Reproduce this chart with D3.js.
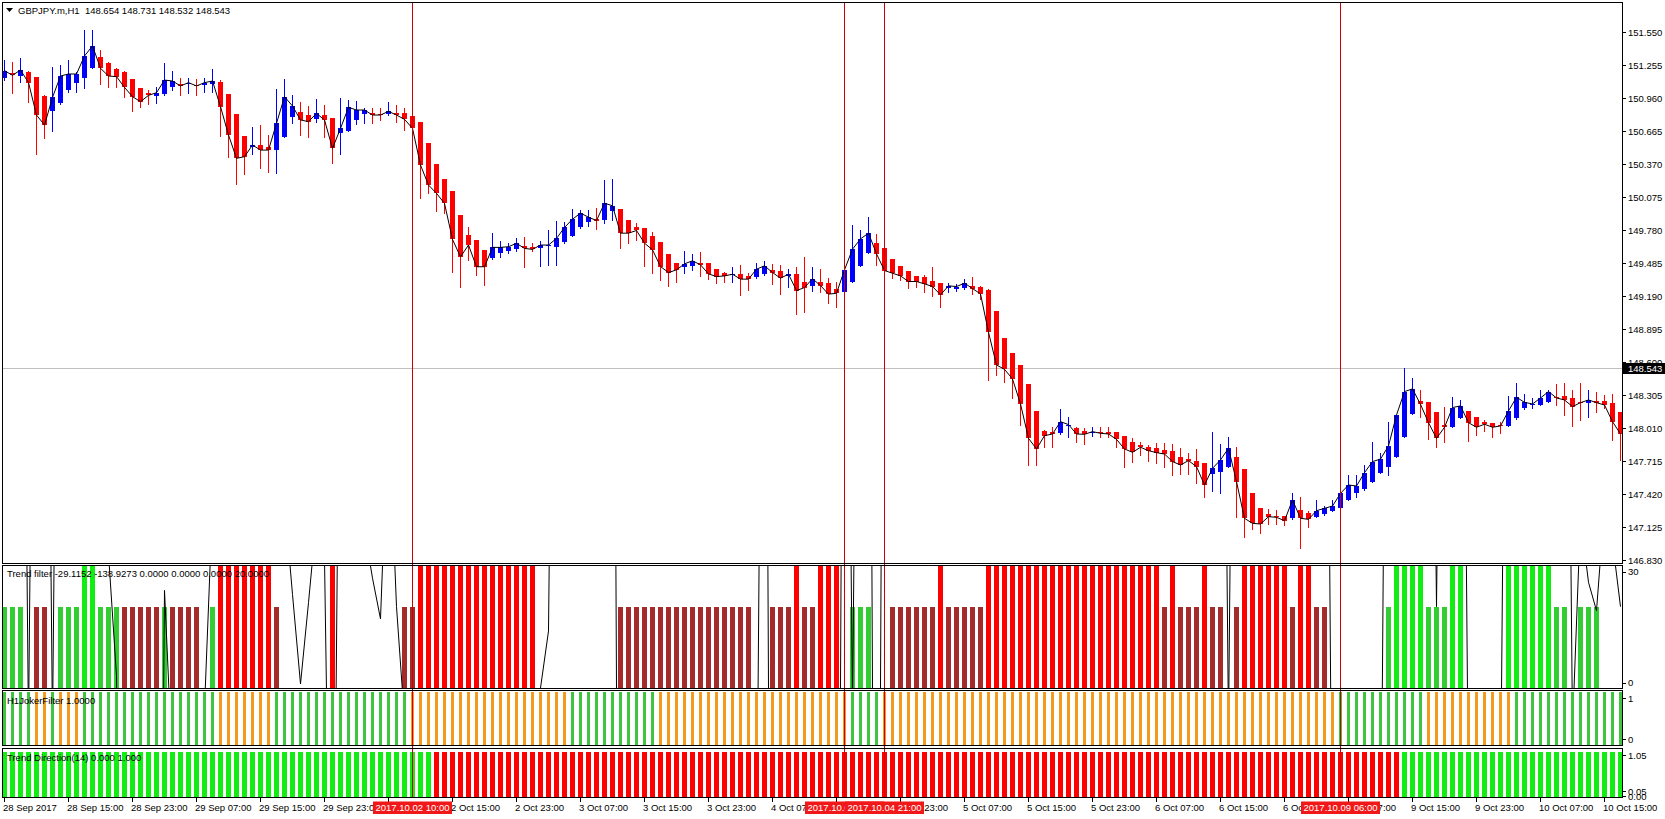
<!DOCTYPE html>
<html><head><meta charset="utf-8">
<script src="https://cdn.jsdelivr.net/npm/d3@7"></script>
<style>
html,body{margin:0;padding:0;background:#fff;}
svg{display:block;}
text{font-family:"Liberation Sans",Arial,sans-serif;font-size:9.5px;fill:#000;white-space:pre;}
</style></head><body>
<svg id="chart" width="1665" height="819"></svg>
<script>
// ---------- DATA ----------
const opens=[151.132,151.177,151.153,151.192,151.141,150.974,150.843,150.909,151.028,151.094,
151.132,151.228,151.326,151.272,151.219,151.192,151.126,151.043,150.998,150.974,
150.989,151.052,151.082,151.082,151.076,151.070,151.082,151.103,150.992,150.810,
150.617,150.521,150.536,150.521,150.491,150.611,150.789,150.834,150.804,150.766,
150.804,150.775,150.646,150.664,150.760,150.813,150.825,150.813,150.813,150.819,
150.819,150.795,150.739,150.551,150.366,150.229,150.125,149.910,149.731,149.686,
149.597,149.522,149.567,149.591,149.603,149.633,149.621,149.612,149.633,149.627,
149.665,149.727,149.799,149.852,149.873,149.867,149.942,149.963,149.867,149.802,
149.793,149.724,149.668,149.563,149.480,149.450,149.456,149.480,149.480,149.429,
149.396,149.372,149.381,149.366,149.352,149.381,149.420,149.411,149.366,149.384,
149.310,149.277,149.310,149.301,149.247,149.226,149.316,149.459,149.575,149.659,
149.614,149.516,149.456,149.411,149.366,149.352,149.322,149.301,149.262,149.247,
149.256,149.277,149.271,149.241,149.053,148.809,148.675,148.570,148.400,148.159,
147.983,147.968,147.959,148.025,148.010,147.983,147.959,147.974,147.968,147.968,
147.935,147.879,147.855,147.834,147.825,147.810,147.801,147.750,147.726,147.715,
147.691,147.592,147.616,147.661,147.744,147.637,147.422,147.288,147.235,147.220,
147.220,147.199,147.273,147.244,147.214,147.238,147.267,147.288,147.363,147.422,
147.458,147.527,147.607,147.661,147.750,147.929,148.132,148.248,148.236,148.147,
148.034,148.019,148.099,148.159,148.102,148.060,148.049,148.034,148.028,148.093,
148.183,148.209,148.212,148.242,148.287,148.293,148.278,148.242,148.233,148.248,
148.248,148.227,148.147];
const highs=[151.296,151.281,151.311,151.195,151.145,150.980,151.237,151.252,151.296,151.190,
151.565,151.565,151.386,151.275,151.222,151.195,151.130,151.046,151.028,151.052,
151.272,151.201,151.132,151.132,151.123,151.132,151.213,151.117,150.995,150.813,
150.620,150.700,150.715,150.626,151.034,151.123,150.983,150.924,150.885,150.948,
150.894,150.780,150.953,150.939,150.933,150.864,150.864,150.864,150.924,150.894,
150.864,150.800,150.742,150.555,150.370,150.232,150.128,149.913,149.806,149.690,
149.600,149.746,149.680,149.662,149.701,149.710,149.662,149.680,149.776,149.859,
149.852,149.963,149.957,149.957,149.972,150.225,150.231,149.966,149.870,149.843,
149.796,149.763,149.671,149.566,149.483,149.593,149.563,149.584,149.483,149.432,
149.405,149.444,149.465,149.390,149.480,149.501,149.474,149.465,149.426,149.444,
149.539,149.450,149.426,149.346,149.316,149.465,149.823,149.778,149.891,149.742,
149.617,149.519,149.459,149.414,149.369,149.375,149.444,149.304,149.301,149.292,
149.340,149.352,149.280,149.245,149.056,148.812,148.678,148.573,148.403,148.162,
147.986,148.019,148.174,148.108,148.013,148.004,148.019,148.013,148.013,147.971,
147.938,147.914,147.884,147.855,147.870,147.876,147.864,147.825,147.786,147.816,
147.694,147.968,147.861,147.929,147.840,147.640,147.425,147.291,147.279,147.273,
147.223,147.422,147.393,147.267,147.363,147.309,147.363,147.512,147.586,147.586,
147.676,147.884,147.780,148.063,148.126,148.540,148.451,148.347,148.239,148.150,
148.198,148.281,148.257,148.162,148.105,148.078,148.052,148.063,148.296,148.406,
148.311,148.272,148.347,148.347,148.400,148.412,148.347,148.406,148.347,148.332,
148.302,148.311,148.150];
const lows=[151.117,151.004,151.103,150.924,150.455,150.596,150.664,150.905,151.013,151.013,
151.043,151.222,151.082,151.052,151.052,150.968,150.840,150.873,150.903,150.909,
150.985,151.028,150.983,150.998,150.983,151.013,151.013,150.617,150.432,150.184,
150.277,150.455,150.327,150.292,150.283,150.608,150.730,150.626,150.605,150.745,
150.605,150.372,150.453,150.660,150.721,150.730,150.730,150.760,150.804,150.745,
150.670,150.521,150.059,150.110,149.949,149.925,149.403,149.263,149.507,149.373,
149.284,149.520,149.537,149.567,149.591,149.448,149.591,149.457,149.463,149.463,
149.660,149.720,149.795,149.808,149.787,149.838,149.867,149.614,149.659,149.688,
149.456,149.390,149.331,149.280,149.316,149.390,149.420,149.366,149.337,149.307,
149.316,149.316,149.197,149.241,149.349,149.378,149.295,149.205,149.271,149.027,
149.047,149.232,149.226,149.122,149.086,149.220,149.310,149.455,149.570,149.465,
149.375,149.346,149.331,149.256,149.271,149.226,149.188,149.092,149.226,149.232,
149.253,149.205,149.158,148.436,148.481,148.421,148.278,148.034,147.676,147.676,
147.840,147.834,147.956,147.929,147.879,147.864,147.938,147.929,147.923,147.834,
147.661,147.706,147.765,147.715,147.691,147.661,147.586,147.595,147.595,147.512,
147.393,147.446,147.422,147.658,147.214,147.029,147.100,147.065,147.148,147.148,
147.139,147.196,146.930,147.118,147.211,147.229,147.264,147.285,147.360,147.393,
147.452,147.524,147.604,147.586,147.747,147.926,148.129,148.108,147.905,147.840,
147.884,148.016,148.096,147.893,147.944,147.983,147.929,147.965,148.025,148.090,
148.180,148.183,148.209,148.239,148.212,148.123,148.028,148.078,148.108,148.153,
148.183,147.899,147.721];
const closes=[151.201,151.159,151.207,151.094,150.804,150.715,150.962,151.153,151.171,151.171,
151.332,151.422,151.222,151.153,151.147,151.052,150.968,150.924,150.980,151.004,
151.117,151.108,151.064,151.094,151.064,151.094,151.108,150.879,150.626,150.417,
150.432,150.536,150.491,150.491,150.730,150.968,150.885,150.760,150.745,150.819,
150.760,150.506,150.685,150.873,150.849,150.849,150.804,150.804,150.837,150.804,
150.766,150.685,150.357,150.178,150.104,150.014,149.692,149.537,149.642,149.448,
149.448,149.621,149.621,149.627,149.657,149.612,149.603,149.642,149.642,149.701,
149.799,149.873,149.927,149.891,149.861,150.016,149.993,149.748,149.748,149.772,
149.659,149.599,149.450,149.396,149.420,149.474,149.501,149.465,149.384,149.360,
149.366,149.381,149.337,149.337,149.426,149.456,149.396,149.346,149.381,149.235,
149.262,149.340,149.280,149.203,149.211,149.420,149.605,149.697,149.748,149.563,
149.414,149.390,149.366,149.316,149.316,149.295,149.271,149.197,149.277,149.271,
149.301,149.253,149.205,148.862,148.570,148.531,148.445,148.221,147.914,147.819,
147.938,147.953,148.063,148.037,147.953,147.950,147.974,147.959,147.953,147.905,
147.819,147.789,147.834,147.804,147.786,147.774,147.706,147.676,147.715,147.661,
147.497,147.646,147.721,147.825,147.527,147.199,147.154,147.148,147.214,147.208,
147.178,147.363,147.199,147.190,147.267,147.288,147.309,147.422,147.497,147.488,
147.607,147.706,147.729,147.846,148.123,148.332,148.356,148.218,148.054,147.914,
148.013,148.189,148.204,148.054,148.013,148.040,148.013,148.025,148.159,148.281,
148.236,148.221,148.275,148.332,148.275,148.257,148.198,148.233,148.257,148.233,
148.212,148.063,147.953];
// Trend filter histogram state: 0 none, 1 green(20), 2 brown(20), 3 lime(30), 4 red(30)
const tfState=[1,1,1,0,2,2,0,1,1,1,
3,3,1,1,1,2,2,2,2,2,
1,2,2,2,2,0,1,4,4,4,
4,4,4,4,2,0,0,0,0,0,
0,4,0,0,0,0,0,0,0,0,
2,2,4,4,4,4,4,4,4,4,
4,4,4,4,4,4,4,0,0,0,
0,0,0,0,0,0,0,2,2,2,
2,2,2,2,2,2,2,2,2,2,
2,2,2,2,0,0,2,2,2,4,
2,2,4,4,4,0,1,1,1,0,
0,2,2,2,2,2,2,4,2,2,
2,2,2,4,4,4,4,4,4,4,
4,4,4,4,4,4,4,4,4,4,
4,4,4,4,4,2,4,2,2,2,
4,2,2,0,2,4,4,4,4,4,
4,2,4,4,2,2,0,0,0,0,
0,0,0,1,3,3,3,3,1,1,
1,3,3,0,0,0,0,0,3,3,
3,3,3,3,1,1,0,1,1,1,
0,0,0];
const tfHeights=[0,20,20,30,30];
// Trend filter line (mostly off scale)
const tfLine=[200,200,200,-10,200,200,-10,200,200,200,
200,200,60,33,3,-200,-200,-200,-200,-200,
24,-20,-200,-200,-200,-5,45,200,200,200,
200,200,200,200,200,46,23,1,21,42,
32,-100,120,200,200,39,27,17,69,20,
-8,-200,-200,-200,-200,-200,-200,-200,-200,-200,
-200,-200,-200,-200,-200,-200,-200,0,14,200,
200,200,200,200,200,200,200,-200,-200,-200,
-200,-200,-200,-200,-200,-200,-200,-200,-200,-200,
-200,-200,-200,-200,-50,200,-200,-200,-200,-200,
-200,-200,-200,-200,-200,200,-5,200,200,-200,
200,200,200,200,200,200,200,200,200,200,
200,200,200,200,200,200,200,200,200,200,
200,200,200,200,200,200,200,200,200,200,
200,200,200,200,200,200,200,200,200,200,
200,200,200,-10,200,200,200,200,200,200,
200,200,200,200,200,200,-60,-60,-60,-60,
-60,-60,-60,200,200,200,200,200,200,20,
200,200,200,-30,-30,-30,-30,-30,200,200,
200,200,200,200,200,200,-10,42,26,19,
45,36,20];
// H1JokerFilter: 1 orange, 0 green
const jokerOrange=[0,0,0,0,1,1,0,1,1,1,
0,0,0,0,0,0,0,0,0,0,
0,0,0,0,0,0,0,1,1,1,
1,1,1,1,0,0,0,0,0,0,
0,0,0,0,0,0,0,0,0,0,
0,1,1,1,1,1,1,1,1,1,
1,1,1,1,1,1,1,1,1,1,
1,0,0,0,0,0,0,0,0,0,
0,0,1,1,1,1,1,1,1,1,
1,1,1,1,1,1,1,1,1,1,
1,1,1,1,1,1,0,0,0,0,
1,1,1,1,1,1,1,1,1,1,
1,1,1,1,1,1,1,1,1,1,
1,1,1,1,1,1,1,1,1,1,
1,1,1,1,1,1,1,1,1,1,
1,1,1,1,1,1,1,1,1,1,
1,1,1,1,1,1,1,0,0,0,
0,0,0,0,0,0,0,0,1,1,
1,1,1,1,1,1,1,1,1,0,
0,0,0,0,0,0,0,0,0,0,
0,0,0];
// Trend Direction: 1 up (green), 0 down (red)
const trendUp=[1,1,1,1,1,1,1,1,1,1,
1,1,1,1,1,1,1,1,1,1,
1,1,1,1,1,1,1,1,1,1,
1,1,1,1,1,1,1,1,1,1,
1,1,1,1,1,1,1,1,1,1,
1,1,1,1,0,0,0,0,0,0,
0,0,0,0,0,0,0,0,0,0,
0,0,0,0,0,0,0,0,0,0,
0,0,0,0,0,0,0,0,0,0,
0,0,0,0,0,0,0,0,0,0,
0,0,0,0,0,0,0,0,0,0,
0,0,0,0,0,0,0,0,0,0,
0,0,0,0,0,0,0,0,0,0,
0,0,0,0,0,0,0,0,0,0,
0,0,0,0,0,0,0,0,0,0,
0,0,0,0,0,0,0,0,0,0,
0,0,0,0,0,0,0,0,0,0,
0,0,0,0,0,1,1,1,1,1,
1,1,1,1,1,1,1,1,1,1,
1,1,1,1,1,1,1,1,1,1,
1,1,1];
const priceTicks=["146.830","147.125","147.420","147.715","148.010","148.305","148.600","148.895","149.190","149.485","149.780","150.075","150.370","150.665","150.960","151.255","151.550"];
const bidPrice=148.543;
const timeLabels=["28 Sep 2017","28 Sep 15:00","28 Sep 23:00","29 Sep 07:00","29 Sep 15:00","29 Sep 23:00","2 Oct 07:00","2 Oct 15:00","2 Oct 23:00","3 Oct 07:00","3 Oct 15:00","3 Oct 23:00","4 Oct 07:00","4 Oct 15:00","4 Oct 23:00","5 Oct 07:00","5 Oct 15:00","5 Oct 23:00","6 Oct 07:00","6 Oct 15:00","6 Oct 23:00","9 Oct 07:00","9 Oct 15:00","9 Oct 23:00","10 Oct 07:00","10 Oct 15:00"];
const timeLabelBars=[0,8,16,24,32,40,48,56,64,72,80,88,96,104,112,120,128,136,144,152,160,168,176,184,192,200];
const markerBars=[51,105,110,167];
const markerLabels=["2017.10.02 10:00","2017.10.04 16:00","2017.10.04 21:00","2017.10.09 06:00"];
const mainTitle="GBPJPY.m,H1  148.654 148.731 148.532 148.543";
const tfTitle="Trend filter -29.1152 -138.9273 0.0000 0.0000 0.0000 20.0000";
const jokerTitle="H1JokerFilter 1.0000";
const tdTitle="Trend Direction(14) 0.000 1.000";

// ---------- DRAW ----------
const svg=d3.select("#chart");
const N=opens.length;
const idx=d3.range(N);
const x=d3.scaleLinear().domain([0,N-1]).range([4,4+8*(N-1)]);
const y=d3.scaleLinear().domain([146.83,151.55]).range([559.6,31.6]);
const yTF=d3.scaleLinear().domain([0,30]).range([688,566]);
const yJ=d3.scaleLinear().domain([0,1]).range([745,692]);
const yTD=d3.scaleLinear().domain([0,1.05]).range([797,749.5]);

const defs=svg.append("defs");
function clip(id,x0,y0,w,h){defs.append("clipPath").attr("id",id).append("rect").attr("x",x0).attr("y",y0).attr("width",w).attr("height",h);}
clip("cMain",3,3,1619,560);
clip("cTF",3,566,1619,122);
clip("cJ",3,691,1619,54);
clip("cTD",3,749,1619,48);

// main panel
const gm=svg.append("g").attr("clip-path","url(#cMain)");
const bidY=Math.round(y(bidPrice))+0.5;
gm.append("line").attr("x1",3).attr("x2",1622).attr("y1",bidY).attr("y2",bidY).attr("stroke","#c0c0c0").attr("stroke-width",1);
const col=i=>closes[i]>=opens[i]?"#0000ff":"#ff0000";
gm.selectAll("line.wick").data(idx).join("line").attr("class","wick")
  .attr("x1",i=>x(i)+0.5).attr("x2",i=>x(i)+0.5)
  .attr("y1",i=>Math.round(y(highs[i]))).attr("y2",i=>Math.round(y(lows[i]))+1)
  .attr("stroke",col).attr("stroke-width",1).attr("shape-rendering","crispEdges");
gm.selectAll("rect.body").data(idx).join("rect").attr("class","body")
  .attr("x",i=>x(i)-2).attr("width",5)
  .attr("y",i=>Math.round(y(Math.max(opens[i],closes[i]))))
  .attr("height",i=>Math.max(1,Math.round(y(Math.min(opens[i],closes[i])))-Math.round(y(Math.max(opens[i],closes[i])))))
  .attr("fill",col).attr("shape-rendering","crispEdges");
gm.append("path").datum(idx)
  .attr("d",d3.line().x(i=>x(i)+0.5).y(i=>y(closes[i])))
  .attr("fill","none").attr("stroke","#000").attr("stroke-width",1);

// Trend filter panel
const gt=svg.append("g").attr("clip-path","url(#cTF)");
const tfColors=[null,"#32cd32","#a52a2a","#11ee11","#ff0000"];
gt.selectAll("rect").data(idx.filter(i=>tfState[i]>0)).join("rect")
  .attr("x",i=>x(i)-2).attr("width",5)
  .attr("y",i=>Math.round(yTF(tfHeights[tfState[i]])))
  .attr("height",i=>Math.round(yTF(0))-Math.round(yTF(tfHeights[tfState[i]])))
  .attr("fill",i=>tfColors[tfState[i]]).attr("shape-rendering","crispEdges");
gt.append("path").datum(idx)
  .attr("d",d3.line().x(i=>x(i)+0.5).y(i=>yTF(tfLine[i])))
  .attr("fill","none").attr("stroke","#000").attr("stroke-width",1);

// Joker panel
const gj=svg.append("g").attr("clip-path","url(#cJ)");
gj.selectAll("rect").data(idx).join("rect")
  .attr("x",i=>x(i)-1).attr("width",3)
  .attr("y",yJ(1)).attr("height",yJ(0)-yJ(1))
  .attr("fill",i=>jokerOrange[i]?"#f29b1d":"#3ec43e").attr("shape-rendering","crispEdges");

// Trend direction panel
const gd=svg.append("g").attr("clip-path","url(#cTD)");
gd.selectAll("rect").data(idx).join("rect")
  .attr("x",i=>x(i)-2).attr("width",5)
  .attr("y",Math.round(yTD(1))).attr("height",yTD(0)-Math.round(yTD(1)))
  .attr("fill",i=>trendUp[i]?"#11ee11":"#ff0000").attr("shape-rendering","crispEdges");

// vertical marker lines
svg.selectAll("line.vmark").data(markerBars).join("line").attr("class","vmark")
  .attr("x1",b=>x(b)+0.5).attr("x2",b=>x(b)+0.5).attr("y1",3).attr("y2",797)
  .attr("stroke","#cc0000").attr("stroke-width",1).attr("shape-rendering","crispEdges");

// panel borders
const borders=[[2.5,2.5,1620,561],[2.5,565.5,1620,123],[2.5,690.5,1620,55],[2.5,748.5,1620,49]];
svg.selectAll("rect.border").data(borders).join("rect").attr("class","border")
  .attr("x",d=>d[0]).attr("y",d=>d[1]).attr("width",d=>d[2]).attr("height",d=>d[3])
  .attr("fill","none").attr("stroke","#000").attr("stroke-width",1).attr("shape-rendering","crispEdges");

// right price axis
const ax=svg.append("g");
priceTicks.forEach(t=>{
  const yy=Math.round(y(+t))+0.5;
  ax.append("line").attr("x1",1622.5).attr("x2",1626).attr("y1",yy).attr("y2",yy).attr("stroke","#000").attr("shape-rendering","crispEdges");
  ax.append("text").attr("x",1628).attr("y",yy+3.5).text(t);
});
ax.append("rect").attr("x",1623).attr("y",bidY-5.5).attr("width",42).attr("height",11).attr("fill","#000");
ax.append("text").attr("x",1628).attr("y",bidY+3.5).style("fill","#fff").text(bidPrice.toFixed(3));

// sub-panel scale labels
const subLabels=[["30",571.7],["0",682.7],["1",698.3],["0",739.3],["1.05",755.3],["0.05",791],["0.00",796]];
subLabels.forEach(d=>{
  ax.append("line").attr("x1",1622.5).attr("x2",1626).attr("y1",Math.round(d[1])+0.5).attr("y2",Math.round(d[1])+0.5).attr("stroke","#000");
  ax.append("text").attr("x",1628).attr("y",d[1]+3.5).text(d[0]);
});

// titles
svg.append("path").attr("d","M6,8 L13,8 L9.5,12 Z").attr("fill","#000");
svg.append("text").attr("x",18).attr("y",14).text(mainTitle);
svg.append("text").attr("x",7).attr("y",577).text(tfTitle);
svg.append("text").attr("x",7).attr("y",704).text(jokerTitle);
svg.append("text").attr("x",7).attr("y",761).text(tdTitle);

// time axis
const tg=svg.append("g");
timeLabelBars.forEach((b,k)=>{
  tg.append("line").attr("x1",x(b)+0.5).attr("x2",x(b)+0.5).attr("y1",797.5).attr("y2",801.5).attr("stroke","#000").attr("shape-rendering","crispEdges");
  tg.append("text").attr("x",x(b)-1).attr("y",810.5).text(timeLabels[k]);
});
markerBars.forEach((b,k)=>{
  tg.append("rect").attr("x",x(b)-39).attr("y",801.5).attr("width",79).attr("height",12.5).attr("fill","#f01818");
  tg.append("text").attr("x",x(b)+0.5).attr("y",810.8).attr("text-anchor","middle").style("fill","#fff").text(markerLabels[k]);
});
</script>
</body></html>
